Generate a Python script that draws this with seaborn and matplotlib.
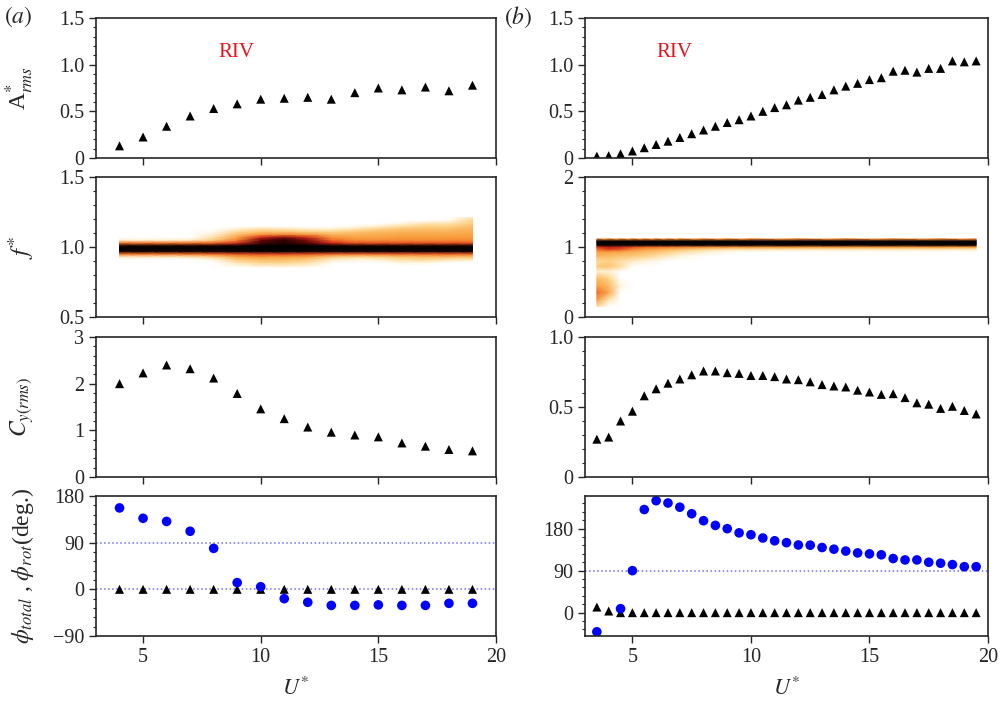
import numpy as np
import matplotlib
matplotlib.use('Agg')
import matplotlib.pyplot as plt
import seaborn as sns
from matplotlib.colors import LinearSegmentedColormap
from matplotlib.ticker import AutoMinorLocator

# ---------------- data: panel (a) ----------------
u_a = [4, 5, 6, 7, 8, 9, 10, 11, 12, 13, 14, 15, 16, 17, 18, 19]
amp_a = [0.13, 0.225, 0.34, 0.45, 0.53, 0.58, 0.63, 0.64, 0.65, 0.63, 0.70, 0.75, 0.73, 0.76, 0.72, 0.78]
cy_a = [2.0, 2.23, 2.4, 2.32, 2.12, 1.79, 1.46, 1.25, 1.07, 0.96, 0.90, 0.86, 0.73, 0.66, 0.59, 0.56]
phi_total_a = [157, 137, 131, 112, 79, 13, 5, -18, -25, -31, -31, -30, -31, -31, -27, -27]
phi_rot_a = [0, 0, 0, 0, 0, 0, 0, 0, 0, 0, 0, 0, 0, 0, 0, 0]

# spectrum map (a): rows = f, columns = u_a
spec_a_f = [0.85, 0.87, 0.89, 0.91, 0.93, 0.95, 0.97, 0.99, 1.01, 1.03,
            1.05, 1.07, 1.09, 1.11, 1.13, 1.15, 1.17, 1.19, 1.21]
spec_a = [
    [0, 0, 0, 0, 0, 0, 0, 0, 0, 0, 0, 0, 0, 0, 0, 0],
    [0, 0, 0, 0, 0, 0.04, 0.08, 0.08, 0.06, 0, 0, 0, 0, 0, 0, 0],
    [0, 0, 0, 0, 0, 0.1, 0.16, 0.16, 0.12, 0.02, 0, 0, 0.04, 0.04, 0, 0],
    [0, 0, 0, 0, 0.05, 0.18, 0.22, 0.22, 0.18, 0.08, 0.04, 0.06, 0.12, 0.14, 0.1, 0.08],
    [0.08, 0.08, 0.08, 0.1, 0.16, 0.28, 0.32, 0.3, 0.28, 0.18, 0.14, 0.16, 0.2, 0.22, 0.22, 0.2],
    [0.42, 0.42, 0.42, 0.43, 0.45, 0.5, 0.52, 0.52, 0.5, 0.46, 0.44, 0.45, 0.46, 0.46, 0.46, 0.45],
    [0.88, 0.88, 0.88, 0.88, 0.88, 0.89, 0.9, 0.9, 0.89, 0.88, 0.88, 0.88, 0.88, 0.88, 0.88, 0.88],
    [1, 1, 1, 1, 1, 1, 1, 1, 1, 1, 1, 1, 1, 1, 1, 1],
    [0.88, 0.88, 0.88, 0.88, 0.88, 0.9, 0.93, 0.94, 0.92, 0.9, 0.88, 0.88, 0.88, 0.88, 0.88, 0.88],
    [0.42, 0.42, 0.42, 0.43, 0.46, 0.58, 0.82, 0.86, 0.78, 0.6, 0.5, 0.5, 0.5, 0.5, 0.5, 0.5],
    [0.06, 0.06, 0.06, 0.08, 0.18, 0.4, 0.76, 0.86, 0.72, 0.45, 0.36, 0.36, 0.36, 0.36, 0.36, 0.36],
    [0, 0, 0, 0, 0.12, 0.3, 0.6, 0.72, 0.58, 0.34, 0.3, 0.3, 0.32, 0.32, 0.32, 0.32],
    [0, 0, 0, 0, 0.07, 0.22, 0.34, 0.38, 0.34, 0.25, 0.25, 0.27, 0.28, 0.28, 0.28, 0.3],
    [0, 0, 0, 0, 0.03, 0.14, 0.2, 0.2, 0.17, 0.16, 0.2, 0.23, 0.25, 0.25, 0.25, 0.27],
    [0, 0, 0, 0, 0, 0.06, 0.12, 0.1, 0.07, 0.06, 0.1, 0.16, 0.2, 0.21, 0.21, 0.25],
    [0, 0, 0, 0, 0, 0, 0, 0, 0, 0, 0.02, 0.06, 0.12, 0.16, 0.16, 0.22],
    [0, 0, 0, 0, 0, 0, 0, 0, 0, 0, 0, 0, 0.04, 0.1, 0.1, 0.18],
    [0, 0, 0, 0, 0, 0, 0, 0, 0, 0, 0, 0, 0, 0, 0.03, 0.15],
    [0, 0, 0, 0, 0, 0, 0, 0, 0, 0, 0, 0, 0, 0, 0, 0.1],
]

# ---------------- data: panel (b) ----------------
u_b = [3.5, 4.0, 4.5, 5.0, 5.5, 6.0, 6.5, 7.0, 7.5, 8.0, 8.5, 9.0, 9.5, 10.0, 10.5, 11.0, 11.5,
       12.0, 12.5, 13.0, 13.5, 14.0, 14.5, 15.0, 15.5, 16.0, 16.5, 17.0, 17.5, 18.0, 18.5, 19.0, 19.5]
amp_b = [0.02, 0.025, 0.045, 0.075, 0.11, 0.145, 0.18, 0.22, 0.26, 0.30, 0.34, 0.38, 0.41, 0.45,
         0.50, 0.54, 0.57, 0.62, 0.65, 0.68, 0.73, 0.77, 0.80, 0.84, 0.86, 0.93, 0.94, 0.92, 0.96,
         0.96, 1.04, 1.03, 1.04]
cy_b = [0.27, 0.285, 0.40, 0.47, 0.58, 0.63, 0.67, 0.70, 0.73, 0.757, 0.757, 0.745, 0.74, 0.725,
        0.725, 0.717, 0.70, 0.695, 0.68, 0.66, 0.65, 0.643, 0.62, 0.607, 0.59, 0.595, 0.567, 0.53,
        0.52, 0.49, 0.505, 0.475, 0.45]
phi_total_b = [-41, np.nan, 8.5, 90, 221, 240, 235, 226, 212, 197, 187, 180, 171, 167, 160, 154, 150,
               145, 144.6, 139.6, 136, 132, 128, 126, 124, 116, 113, 113, 108, 106, 103, 98.5, 98.5]
phi_rot_b = [12, 3.5, 0, 0, 0, 0, 0, 0, 0, 0, 0, 0, 0, 0, 0, 0, 0,
             0, 0, 0, 0, 0, 0, 0, 0, 0, 0, 0, 0, 0, 0, 0, 0]

# spectrum map (b): rows = f, columns = spec_b_u
spec_b_u = [3.5, 4.0, 4.5, 5.0, 5.5, 6.0, 6.5, 7.0, 8.0, 9.0, 10.0, 12.0, 14.0, 16.0, 18.0, 19.5]
spec_b_f = [0.15, 0.25, 0.35, 0.45, 0.55, 0.65, 0.72, 0.8, 0.87, 0.93, 0.97, 1.0, 1.03, 1.06, 1.09, 1.115]
spec_b = [
    [0.12, 0, 0, 0, 0, 0, 0, 0, 0, 0, 0, 0, 0, 0, 0, 0],
    [0.32, 0.1, 0, 0, 0, 0, 0, 0, 0, 0, 0, 0, 0, 0, 0, 0],
    [0.45, 0.28, 0, 0, 0, 0, 0, 0, 0, 0, 0, 0, 0, 0, 0, 0],
    [0.3, 0.22, 0.04, 0, 0, 0, 0, 0, 0, 0, 0, 0, 0, 0, 0, 0],
    [0.24, 0.16, 0, 0, 0, 0, 0, 0, 0, 0, 0, 0, 0, 0, 0, 0],
    [0.06, 0.05, 0, 0, 0, 0, 0, 0, 0, 0, 0, 0, 0, 0, 0, 0],
    [0.18, 0.2, 0.12, 0, 0, 0, 0, 0, 0, 0, 0, 0, 0, 0, 0, 0],
    [0.14, 0.16, 0.12, 0.08, 0.05, 0.03, 0, 0, 0, 0, 0, 0, 0, 0, 0, 0],
    [0.24, 0.22, 0.2, 0.18, 0.16, 0.12, 0.08, 0.04, 0, 0, 0, 0, 0, 0, 0, 0],
    [0.3, 0.3, 0.28, 0.25, 0.22, 0.2, 0.16, 0.12, 0.06, 0.02, 0, 0, 0, 0, 0, 0],
    [0.45, 0.55, 0.5, 0.38, 0.32, 0.28, 0.25, 0.22, 0.16, 0.12, 0.12, 0.1, 0.1, 0.1, 0.1, 0.08],
    [0.55, 0.62, 0.58, 0.5, 0.45, 0.42, 0.4, 0.38, 0.35, 0.33, 0.33, 0.32, 0.32, 0.32, 0.32, 0.3],
    [0.9, 0.9, 0.9, 0.9, 0.9, 0.9, 0.9, 0.9, 0.9, 0.9, 0.9, 0.9, 0.9, 0.9, 0.9, 0.9],
    [1, 1, 1, 1, 1, 1, 1, 1, 1, 1, 1, 1, 1, 1, 1, 1],
    [0.9, 0.9, 0.9, 0.9, 0.9, 0.9, 0.9, 0.9, 0.9, 0.9, 0.9, 0.9, 0.9, 0.9, 0.9, 0.9],
    [0.35, 0.35, 0.35, 0.35, 0.35, 0.35, 0.35, 0.35, 0.35, 0.35, 0.35, 0.35, 0.35, 0.35, 0.35, 0.35],
]

# tick labels per panel
yt_amp = ([0, 0.5, 1.0, 1.5], ['0', '0.5', '1.0', '1.5'])
yt_fa = ([0.5, 1.0, 1.5], ['0.5', '1.0', '1.5'])
yt_fb = ([0, 1, 2], ['0', '1', '2'])
yt_cya = ([0, 1, 2, 3], ['0', '1', '2', '3'])
yt_cyb = ([0, 0.5, 1.0], ['0', '0.5', '1.0'])
yt_pha = ([-90, 0, 90, 180], ['\u221290', '0', '90', '180'])
yt_phb = ([0, 90, 180], ['0', '90', '180'])

# ---------------- style ----------------
sns.set_style("ticks")
plt.rcParams['font.family'] = ['Liberation Serif', 'DejaVu Serif']
plt.rcParams['mathtext.fontset'] = 'stix'
plt.rcParams['axes.linewidth'] = 1.2

spec_cmap = LinearSegmentedColormap.from_list(
    'spec', [(0, 'white'), (0.05, '#fff3d8'), (0.15, '#fdd58c'), (0.3, '#f9a241'),
             (0.45, '#ef6b27'), (0.6, '#cc281a'), (0.76, '#6a0606'), (0.92, 'black'), (1, 'black')])

fig = plt.figure(figsize=(10.01, 7.05), dpi=100)
W, H = 1001, 705
col_x = [(96, 496), (585, 988)]
row_y = [(18, 158), (177, 317), (337, 477), (496, 636)]
axes = [[fig.add_axes([x0 / W, 1 - y1 / H, (x1 - x0) / W, (y1 - y0) / H])
         for (x0, x1) in col_x] for (y0, y1) in row_y]

TRI = dict(marker='^', color='black', s=42, edgecolor='none', linewidth=0)
DOT = dict(marker='o', color='#0000ff', s=48, edgecolor='none', linewidth=0)


def style(ax, ylim, yt, show_x):
    ax.set_xlim(3, 20)
    ax.set_xticks([5, 10, 15, 20])
    ax.set_ylim(*ylim)
    ax.set_yticks(yt[0])
    ax.set_yticklabels(yt[1])
    ax.yaxis.set_minor_locator(AutoMinorLocator(5))
    ax.tick_params(axis='both', which='major', direction='out', length=5, width=1,
                   labelsize=14.5, top=False, right=False)
    ax.tick_params(axis='y', which='minor', direction='out', length=2.5, width=0.8)
    ax.tick_params(axis='x', which='minor', bottom=False)
    if not show_x:
        ax.set_xticklabels([])
    for sp in ax.spines.values():
        sp.set_visible(True)
        sp.set_linewidth(1.2)
    ax.set_xlabel('')
    ax.set_ylabel('')


# row 1: amplitude
sns.scatterplot(x=u_a, y=amp_a, ax=axes[0][0], **TRI)
sns.scatterplot(x=u_b, y=amp_b, ax=axes[0][1], **TRI)
style(axes[0][0], (0, 1.5), yt_amp, False)
style(axes[0][1], (0, 1.5), yt_amp, False)
axes[0][0].text(8.2, 1.13, 'RIV', color='#e8141c', fontsize=15, va='center')
axes[0][1].text(6.0, 1.13, 'RIV', color='#e8141c', fontsize=15, va='center')

# row 2: frequency spectra
axes[1][0].pcolormesh(u_a, spec_a_f, np.array(spec_a), shading='gouraud',
                      cmap=spec_cmap, vmin=0, vmax=1)
axes[1][1].pcolormesh(spec_b_u, spec_b_f, np.array(spec_b), shading='gouraud',
                      cmap=spec_cmap, vmin=0, vmax=1)
style(axes[1][0], (0.5, 1.5), yt_fa, False)
style(axes[1][1], (0, 2), yt_fb, False)

# row 3: lift coefficient
sns.scatterplot(x=u_a, y=cy_a, ax=axes[2][0], **TRI)
sns.scatterplot(x=u_b, y=cy_b, ax=axes[2][1], **TRI)
style(axes[2][0], (0, 3), yt_cya, False)
style(axes[2][1], (0, 1), yt_cyb, False)

# row 4: phases
for yref in [0, 90]:
    axes[3][0].axhline(yref, color='#6e6eff', ls=':', lw=1.1, zorder=0)
axes[3][1].axhline(90, color='#6e6eff', ls=':', lw=1.1, zorder=0)
sns.scatterplot(x=u_a, y=phi_rot_a, ax=axes[3][0], **TRI)
sns.scatterplot(x=u_a, y=phi_total_a, ax=axes[3][0], **DOT)
sns.scatterplot(x=u_b, y=phi_rot_b, ax=axes[3][1], **TRI)
sns.scatterplot(x=u_b, y=phi_total_b, ax=axes[3][1], **DOT)
style(axes[3][0], (-90, 180), yt_pha, True)
style(axes[3][1], (-50, 250), yt_phb, True)

# labels
ylabels = [r'A$^{*}_{rms}$', r'$f^{*}$', r'$C_{y(rms)}$', r'$\phi_{total}$ , $\phi_{rot}$(deg.)']
ysizes = [17, 18, 17, 17]
for i, lab in enumerate(ylabels):
    axes[i][0].set_ylabel(lab, fontsize=ysizes[i])
    axes[i][0].yaxis.set_label_coords(-0.15, 0.5)
for j in range(2):
    axes[3][j].set_xlabel(r'$U^{*}$', fontsize=16, labelpad=8)

fig.text(0.004, 0.976, r'$(a)$', fontsize=17, va='center')
fig.text(0.503, 0.976, r'$(b)$', fontsize=17, va='center')

fig.savefig('out.png', dpi=100)
